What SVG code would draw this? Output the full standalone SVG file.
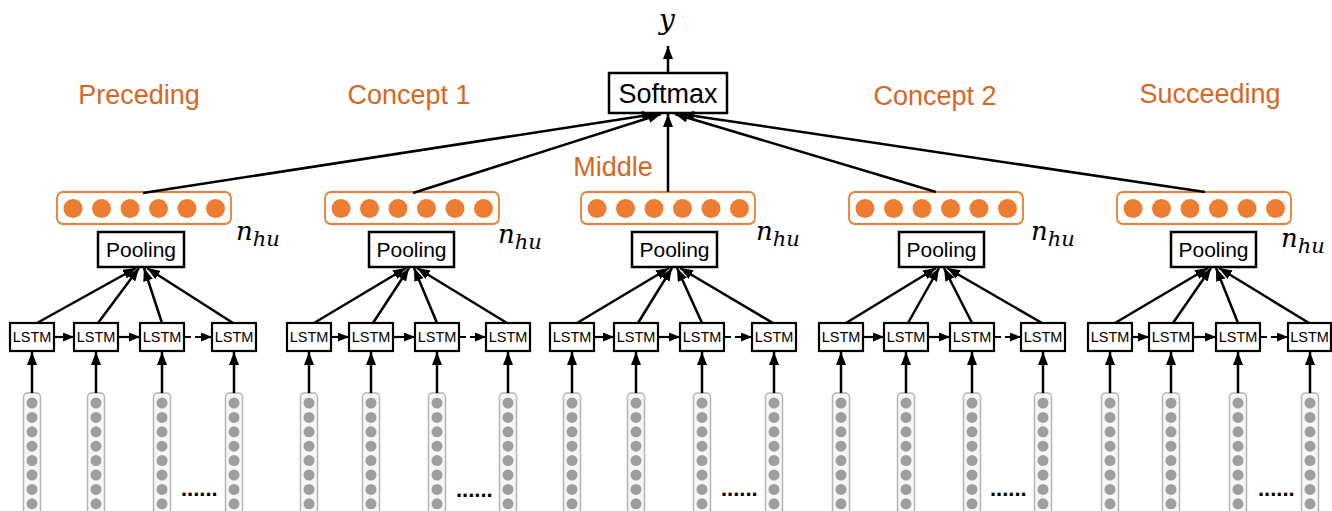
<svg xmlns="http://www.w3.org/2000/svg" width="1332" height="511" viewBox="0 0 1332 511">
<style>
.box{fill:#fff;stroke:#000;stroke-width:2.5}
.lstm{fill:#fff;stroke:#000;stroke-width:2.2}
.lt{font-family:"Liberation Sans",Arial,sans-serif;font-size:14.5px;text-anchor:middle;fill:#000}
.pt{font-family:"Liberation Sans",Arial,sans-serif;font-size:21px;text-anchor:middle;fill:#000}
.st{font-family:"Liberation Sans",Arial,sans-serif;font-size:27px;text-anchor:middle;fill:#000}
.ob{fill:#fff;stroke:#ED7D31;stroke-width:1.8}
.oc{fill:#ED7D31}
.col{fill:#f7f7f7;stroke:#b5b5b5;stroke-width:1.5}
.gd{fill:#9e9e9e}
.lab{font-family:"Liberation Sans",Arial,sans-serif;font-size:27px;fill:#D9661F;text-anchor:middle}
.math{font-family:"DejaVu Serif",serif;font-style:italic;fill:#000}
.nh{font-size:26px}
.sub{font-size:21px}
.ell{font-family:"Liberation Sans",Arial,sans-serif;font-size:22px;font-weight:bold;fill:#000}
.c{stroke:#000;stroke-width:2.5;fill:none;marker-end:url(#ah)}
.cs{stroke:#000;stroke-width:2.2;fill:none;marker-end:url(#ahs)}
</style>
<defs>
<marker id="ah" markerUnits="userSpaceOnUse" markerWidth="13" markerHeight="10" refX="13" refY="5" orient="auto"><path d="M0,0 L13,5 L0,10 z" fill="#000"/></marker>
<marker id="ahs" markerUnits="userSpaceOnUse" markerWidth="11" markerHeight="9" refX="11" refY="4.5" orient="auto"><path d="M0,0 L11,4.5 L0,9 z" fill="#000"/></marker>
<g id="embcol">
<rect class="col" x="-8.5" y="0" width="17" height="130" rx="4"/>
<circle class="gd" cx="0" cy="10" r="5.5"/><circle class="gd" cx="0" cy="24.4" r="5.5"/><circle class="gd" cx="0" cy="38.8" r="5.5"/><circle class="gd" cx="0" cy="53.2" r="5.5"/><circle class="gd" cx="0" cy="67.6" r="5.5"/><circle class="gd" cx="0" cy="82" r="5.5"/><circle class="gd" cx="0" cy="96.4" r="5.5"/><circle class="gd" cx="0" cy="110.8" r="5.5"/>
</g>
<g id="orow">
<rect class="ob" x="0" y="0" width="174" height="32" rx="6"/>
<circle class="oc" cx="16" cy="16.5" r="9.5"/><circle class="oc" cx="44.5" cy="16.5" r="9.5"/><circle class="oc" cx="73" cy="16.5" r="9.5"/><circle class="oc" cx="101.5" cy="16.5" r="9.5"/><circle class="oc" cx="130" cy="16.5" r="9.5"/><circle class="oc" cx="158.5" cy="16.5" r="9.5"/>
</g>
</defs>
<rect width="1332" height="511" fill="#fff"/>

<g id="labels">
<text class="lab" x="139" y="104">Preceding</text>
<text class="lab" x="409" y="104">Concept 1</text>
<text class="lab" x="613" y="176">Middle</text>
<text class="lab" x="935" y="105">Concept 2</text>
<text class="lab" x="1210" y="103">Succeeding</text>
</g>

<g id="output-y"><text class="math" x="667" y="29" style="font-size:28px" text-anchor="middle">y</text></g>
<g id="softmax">
<rect class="box" x="609" y="73" width="118" height="40"/>
<text class="st" x="668" y="103">Softmax</text>
</g>

<g id="seg1-hidden"><use href="#orow" x="57" y="192"/><text class="math nh" x="236" y="240">n<tspan class="sub" dy="6">hu</tspan></text></g>
<g id="seg1-pooling"><rect class="box" x="98" y="232" width="86" height="35"/><text class="pt" x="141" y="257">Pooling</text></g>
<g id="seg1-lstm1"><rect class="lstm" x="10" y="323" width="44" height="28"/><text class="lt" x="32" y="342">LSTM</text></g>
<g id="seg1-lstm2"><rect class="lstm" x="74" y="323" width="44" height="28"/><text class="lt" x="96" y="342">LSTM</text></g>
<g id="seg1-lstm3"><rect class="lstm" x="140" y="323" width="44" height="28"/><text class="lt" x="162" y="342">LSTM</text></g>
<g id="seg1-lstm4"><rect class="lstm" x="212" y="323" width="44" height="28"/><text class="lt" x="234" y="342">LSTM</text></g>
<g id="seg1-inputs"><use href="#embcol" x="32" y="393"/><use href="#embcol" x="96" y="393"/><use href="#embcol" x="162" y="393"/><use href="#embcol" x="234" y="393"/><text class="ell" x="181" y="496">......</text></g>

<g id="seg2-hidden"><use href="#orow" x="325" y="192"/><text class="math nh" x="498" y="243">n<tspan class="sub" dy="6">hu</tspan></text></g>
<g id="seg2-pooling"><rect class="box" x="369" y="232" width="85" height="35"/><text class="pt" x="411.5" y="257">Pooling</text></g>
<g id="seg2-lstm1"><rect class="lstm" x="287" y="323" width="44" height="28"/><text class="lt" x="309" y="342">LSTM</text></g>
<g id="seg2-lstm2"><rect class="lstm" x="349" y="323" width="44" height="28"/><text class="lt" x="371" y="342">LSTM</text></g>
<g id="seg2-lstm3"><rect class="lstm" x="415" y="323" width="44" height="28"/><text class="lt" x="437" y="342">LSTM</text></g>
<g id="seg2-lstm4"><rect class="lstm" x="486" y="323" width="44" height="28"/><text class="lt" x="508" y="342">LSTM</text></g>
<g id="seg2-inputs"><use href="#embcol" x="309" y="393"/><use href="#embcol" x="371" y="393"/><use href="#embcol" x="437" y="393"/><use href="#embcol" x="508" y="393"/><text class="ell" x="456" y="497">......</text></g>

<g id="seg3-hidden"><use href="#orow" x="581" y="192"/><text class="math nh" x="756" y="240">n<tspan class="sub" dy="6">hu</tspan></text></g>
<g id="seg3-pooling"><rect class="box" x="632" y="232" width="85" height="35"/><text class="pt" x="674.5" y="257">Pooling</text></g>
<g id="seg3-lstm1"><rect class="lstm" x="550" y="323" width="44" height="28"/><text class="lt" x="572" y="342">LSTM</text></g>
<g id="seg3-lstm2"><rect class="lstm" x="614" y="323" width="44" height="28"/><text class="lt" x="636" y="342">LSTM</text></g>
<g id="seg3-lstm3"><rect class="lstm" x="680" y="323" width="44" height="28"/><text class="lt" x="702" y="342">LSTM</text></g>
<g id="seg3-lstm4"><rect class="lstm" x="752" y="323" width="44" height="28"/><text class="lt" x="774" y="342">LSTM</text></g>
<g id="seg3-inputs"><use href="#embcol" x="572" y="393"/><use href="#embcol" x="636" y="393"/><use href="#embcol" x="702" y="393"/><use href="#embcol" x="774" y="393"/><text class="ell" x="721" y="496">......</text></g>

<g id="seg4-hidden"><use href="#orow" x="849" y="192"/><text class="math nh" x="1031" y="240">n<tspan class="sub" dy="6">hu</tspan></text></g>
<g id="seg4-pooling"><rect class="box" x="899" y="232" width="85" height="35"/><text class="pt" x="941.5" y="257">Pooling</text></g>
<g id="seg4-lstm1"><rect class="lstm" x="819" y="323" width="44" height="28"/><text class="lt" x="841" y="342">LSTM</text></g>
<g id="seg4-lstm2"><rect class="lstm" x="884" y="323" width="44" height="28"/><text class="lt" x="906" y="342">LSTM</text></g>
<g id="seg4-lstm3"><rect class="lstm" x="950" y="323" width="44" height="28"/><text class="lt" x="972" y="342">LSTM</text></g>
<g id="seg4-lstm4"><rect class="lstm" x="1021" y="323" width="44" height="28"/><text class="lt" x="1043" y="342">LSTM</text></g>
<g id="seg4-inputs"><use href="#embcol" x="841" y="393"/><use href="#embcol" x="906" y="393"/><use href="#embcol" x="972" y="393"/><use href="#embcol" x="1043" y="393"/><text class="ell" x="990" y="496">......</text></g>

<g id="seg5-hidden"><use href="#orow" x="1117" y="192"/><text class="math nh" x="1281" y="247">n<tspan class="sub" dy="6">hu</tspan></text></g>
<g id="seg5-pooling"><rect class="box" x="1171" y="232" width="85" height="35"/><text class="pt" x="1213.5" y="257">Pooling</text></g>
<g id="seg5-lstm1"><rect class="lstm" x="1088" y="323" width="44" height="28"/><text class="lt" x="1110" y="342">LSTM</text></g>
<g id="seg5-lstm2"><rect class="lstm" x="1149" y="323" width="44" height="28"/><text class="lt" x="1171" y="342">LSTM</text></g>
<g id="seg5-lstm3"><rect class="lstm" x="1216" y="323" width="44" height="28"/><text class="lt" x="1238" y="342">LSTM</text></g>
<g id="seg5-lstm4"><rect class="lstm" x="1288" y="323" width="43" height="28"/><text class="lt" x="1309.5" y="342">LSTM</text></g>
<g id="seg5-inputs"><use href="#embcol" x="1110" y="393"/><use href="#embcol" x="1171" y="393"/><use href="#embcol" x="1238" y="393"/><use href="#embcol" x="1310" y="393"/><text class="ell" x="1258" y="496">......</text></g>

<g id="connectors">
<line class="c" x1="668" y1="73" x2="668" y2="46"/>
<line class="c" x1="143" y1="193" x2="655" y2="114"/>
<line class="c" x1="413" y1="193" x2="661" y2="114"/>
<line class="c" x1="668" y1="192" x2="668" y2="114"/>
<line class="c" x1="936" y1="192" x2="675" y2="114"/>
<line class="c" x1="1205" y1="192" x2="681" y2="114"/>

<line class="c" x1="37" y1="323" x2="136" y2="268"/>
<line class="c" x1="98" y1="323" x2="139" y2="268"/>
<line class="c" x1="162" y1="323" x2="144" y2="268"/>
<line class="c" x1="233" y1="323" x2="147" y2="268"/>
<line class="cs" x1="54" y1="337" x2="74" y2="337"/>
<line class="cs" x1="118" y1="337" x2="140" y2="337"/>
<line class="cs" x1="184" y1="337" x2="212" y2="337" stroke-dasharray="7 4 60"/>
<line class="c" x1="32" y1="393" x2="32" y2="352"/>
<line class="c" x1="96" y1="393" x2="96" y2="352"/>
<line class="c" x1="162" y1="393" x2="162" y2="352"/>
<line class="c" x1="234" y1="393" x2="234" y2="352"/>

<line class="c" x1="314" y1="323" x2="406" y2="268"/>
<line class="c" x1="373" y1="323" x2="409" y2="268"/>
<line class="c" x1="437" y1="323" x2="414" y2="268"/>
<line class="c" x1="507" y1="323" x2="417" y2="268"/>
<line class="cs" x1="331" y1="337" x2="349" y2="337"/>
<line class="cs" x1="393" y1="337" x2="415" y2="337"/>
<line class="cs" x1="459" y1="337" x2="486" y2="337" stroke-dasharray="7 4 60"/>
<line class="c" x1="309" y1="393" x2="309" y2="352"/>
<line class="c" x1="371" y1="393" x2="371" y2="352"/>
<line class="c" x1="437" y1="393" x2="437" y2="352"/>
<line class="c" x1="508" y1="393" x2="508" y2="352"/>

<line class="c" x1="577" y1="323" x2="669" y2="268"/>
<line class="c" x1="638" y1="323" x2="672" y2="268"/>
<line class="c" x1="702" y1="323" x2="677" y2="268"/>
<line class="c" x1="773" y1="323" x2="680" y2="268"/>
<line class="cs" x1="594" y1="337" x2="614" y2="337"/>
<line class="cs" x1="658" y1="337" x2="680" y2="337"/>
<line class="cs" x1="724" y1="337" x2="752" y2="337" stroke-dasharray="7 4 60"/>
<line class="c" x1="572" y1="393" x2="572" y2="352"/>
<line class="c" x1="636" y1="393" x2="636" y2="352"/>
<line class="c" x1="702" y1="393" x2="702" y2="352"/>
<line class="c" x1="774" y1="393" x2="774" y2="352"/>

<line class="c" x1="846" y1="323" x2="936" y2="268"/>
<line class="c" x1="908" y1="323" x2="939" y2="268"/>
<line class="c" x1="972" y1="323" x2="944" y2="268"/>
<line class="c" x1="1042" y1="323" x2="947" y2="268"/>
<line class="cs" x1="863" y1="337" x2="884" y2="337"/>
<line class="cs" x1="928" y1="337" x2="950" y2="337"/>
<line class="cs" x1="994" y1="337" x2="1021" y2="337" stroke-dasharray="7 4 60"/>
<line class="c" x1="841" y1="393" x2="841" y2="352"/>
<line class="c" x1="906" y1="393" x2="906" y2="352"/>
<line class="c" x1="972" y1="393" x2="972" y2="352"/>
<line class="c" x1="1043" y1="393" x2="1043" y2="352"/>

<line class="c" x1="1115" y1="323" x2="1208" y2="268"/>
<line class="c" x1="1173" y1="323" x2="1211" y2="268"/>
<line class="c" x1="1238" y1="323" x2="1216" y2="268"/>
<line class="c" x1="1309" y1="323" x2="1219" y2="268"/>
<line class="cs" x1="1132" y1="337" x2="1149" y2="337"/>
<line class="cs" x1="1193" y1="337" x2="1216" y2="337"/>
<line class="cs" x1="1260" y1="337" x2="1288" y2="337" stroke-dasharray="7 4 60"/>
<line class="c" x1="1110" y1="393" x2="1110" y2="352"/>
<line class="c" x1="1171" y1="393" x2="1171" y2="352"/>
<line class="c" x1="1238" y1="393" x2="1238" y2="352"/>
<line class="c" x1="1310" y1="393" x2="1310" y2="352"/>
</g>
</svg>
